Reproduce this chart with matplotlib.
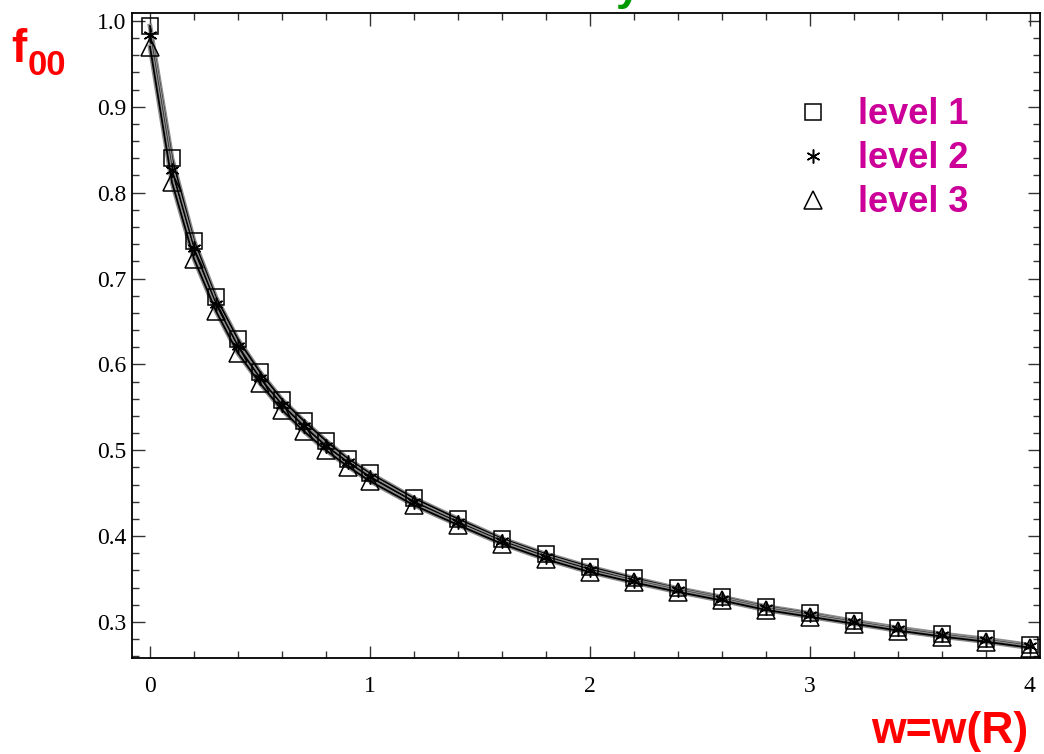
import matplotlib
matplotlib.use('Agg')
import matplotlib.pyplot as plt
import matplotlib.patheffects as pe
from matplotlib.ticker import MultipleLocator

# data
w = [0.0, 0.1, 0.2, 0.3, 0.4, 0.5, 0.6, 0.7, 0.8, 0.9, 1.0,
     1.2, 1.4, 1.6, 1.8, 2.0, 2.2, 2.4, 2.6, 2.8, 3.0, 3.2, 3.4, 3.6, 3.8, 4.0]
level1 = [0.994, 0.840, 0.744, 0.678, 0.629, 0.591, 0.559, 0.534, 0.511, 0.490, 0.473,
          0.444, 0.420, 0.397, 0.379, 0.364, 0.351, 0.339, 0.329, 0.318, 0.310,
          0.301, 0.293, 0.286, 0.280, 0.273]
level2 = [0.984, 0.826, 0.735, 0.670, 0.621, 0.584, 0.553, 0.528, 0.505, 0.486, 0.469,
          0.440, 0.416, 0.394, 0.376, 0.361, 0.348, 0.337, 0.327, 0.316, 0.308,
          0.300, 0.292, 0.285, 0.279, 0.272]
level3 = [0.970, 0.812, 0.723, 0.662, 0.613, 0.578, 0.547, 0.522, 0.500, 0.481, 0.464,
          0.436, 0.413, 0.391, 0.373, 0.358, 0.346, 0.335, 0.325, 0.314, 0.306,
          0.298, 0.290, 0.283, 0.277, 0.270]
labels = ['level 1', 'level 2', 'level 3']
markers = ['s', (6, 2, 0), '^']
sizes = [12, 10, 13]

fig = plt.figure(figsize=(10.44, 7.54), dpi=100)
ax = fig.add_axes([0.1264, 0.1273, 0.8696, 0.8555])

outline = [pe.Stroke(linewidth=3.4, foreground='0.55'), pe.Normal()]
for ys, lab, m, s in zip([level1, level2, level3], labels, markers, sizes):
    ax.plot(w, ys, color='black', lw=1.3, path_effects=outline, zorder=2)
    ax.plot(w, ys, linestyle='none', marker=m, markersize=s, markerfacecolor='none',
            markeredgecolor='black', markeredgewidth=1.1, label=lab, zorder=3)

ax.set_xlim(-0.082, 4.045)
ax.set_ylim(0.258, 1.0093)
ax.xaxis.set_major_locator(MultipleLocator(1))
ax.xaxis.set_minor_locator(MultipleLocator(0.2))
ax.yaxis.set_minor_locator(MultipleLocator(0.02))
ax.set_yticks([0.3, 0.4, 0.5, 0.6, 0.7, 0.8, 0.9, 1.0])
ax.set_yticklabels(['0.3', '0.4', '0.5', '0.6', '0.7', '0.8', '0.9', '1.0'])
ax.tick_params(which='both', direction='in', top=True, right=True, width=1.0, color='0.2')
ax.tick_params(which='major', length=9, labelsize=17)
ax.tick_params(which='minor', length=5)
ax.tick_params(axis='x', which='major', pad=13)
ax.tick_params(axis='y', which='major', pad=4)
for lab in ax.get_xticklabels() + ax.get_yticklabels():
    lab.set_family('Liberation Serif')
for sp in ax.spines.values():
    sp.set_linewidth(1.3)

leg = ax.legend(loc='upper left', bbox_to_anchor=(0.7306, 0.914), bbox_transform=fig.transFigure,
                frameon=False, handlelength=1.0, handletextpad=0.75, labelspacing=0.25,
                prop={'family': 'Liberation Sans', 'weight': 'bold', 'size': 26})
for t in leg.get_texts():
    t.set_color('#CC0099')

# axis labels as in the slide
fig.text(0.011, 0.918, 'f', color='red', fontsize=33, fontweight='bold',
         family='Liberation Sans', va='baseline')
fig.text(0.026, 0.900, '00', color='red', fontsize=25, fontweight='bold',
         family='Liberation Sans', va='baseline')
fig.text(0.985, 0.002, 'w=w(R)', color='red', fontsize=32, fontweight='bold',
         family='Liberation Sans', ha='right', va='bottom')
fig.text(0.590, 1.0, 'y', color='#009900', fontsize=32, fontweight='bold',
         family='Liberation Sans', va='baseline')

fig.savefig('out.png', dpi=100)
